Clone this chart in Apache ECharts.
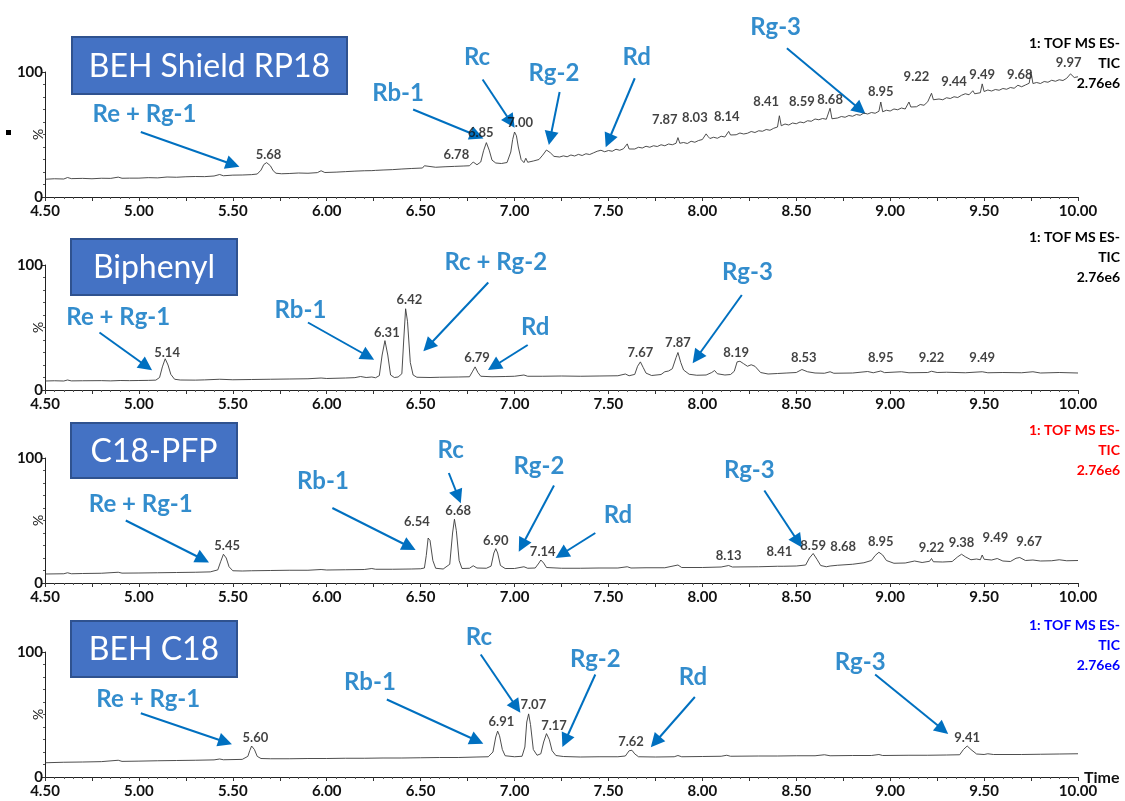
<!DOCTYPE html>
<html>
<head>
<meta charset="utf-8">
<script src="https://cdn.jsdelivr.net/npm/echarts@6/dist/echarts.min.js"></script>
<style>
html, body { margin: 0; padding: 0; background: #fff; }
#chart { width: 1125px; height: 801px; }
</style>
</head>
<body>
<div id="chart"></div>
<script>
// column names, one chromatogram per column
const columnNames = ['BEH Shield RP18', 'Biphenyl', 'C18-PFP', 'BEH C18']
const detectorText = '1: TOF MS ES-\nTIC\n2.76e6'

// axis tick labels
const timeLabels = [4.5, 5, 5.5, 6, 6.5, 7, 7.5, 8, 8.5, 9, 9.5, 10]
const percentLabels = [0, 100]

// TIC traces, [time (min), relative intensity (%)]
const shieldTrace = [
  [4.50, 14.2], [4.55, 14.6], [4.60, 14.4], [4.62, 15.6], [4.64, 14.7], [4.70, 14.9], [4.75, 14.6], [4.80, 15.0],
  [4.85, 14.9], [4.89, 15.9], [4.91, 15.0], [4.95, 15.1], [5.00, 15.1], [5.05, 15.5], [5.10, 15.3], [5.15, 16.0],
  [5.20, 15.8], [5.25, 16.2], [5.30, 16.4], [5.35, 16.3], [5.40, 16.8], [5.43, 18.0], [5.45, 17.0], [5.50, 17.5],
  [5.55, 17.6], [5.60, 17.9], [5.63, 18.4], [5.65, 21.5], [5.665, 26.0], [5.68, 27.5], [5.69, 26.8], [5.70, 25.0],
  [5.715, 21.0], [5.73, 19.0], [5.76, 18.6], [5.80, 18.8], [5.85, 19.2], [5.90, 19.0], [5.95, 19.5], [5.97, 21.0],
  [5.99, 19.6], [6.05, 19.9], [6.10, 20.3], [6.15, 20.7], [6.20, 21.0], [6.24, 21.1], [6.25, 22.6], [6.26, 21.3],
  [6.30, 21.6], [6.35, 21.9], [6.40, 22.4], [6.45, 22.8], [6.51, 23.2], [6.52, 25.0], [6.53, 23.4], [6.58, 23.8],
  [6.63, 24.2], [6.68, 24.5], [6.73, 24.8], [6.76, 25.0], [6.78, 28.0], [6.80, 25.8], [6.82, 28.0], [6.835, 37.0],
  [6.85, 43.5], [6.865, 37.5], [6.88, 29.5], [6.90, 27.2], [6.93, 26.8], [6.96, 27.6], [6.98, 36.0], [6.99, 46.0],
  [7.00, 52.0], [7.01, 49.0], [7.02, 40.0], [7.035, 30.0], [7.05, 27.5], [7.06, 31.0], [7.07, 27.8], [7.10, 28.8],
  [7.13, 30.0], [7.15, 33.5], [7.17, 37.6], [7.19, 35.5], [7.21, 32.5],
  [7.24, 32.0], [7.26, 32.9], [7.28, 32.2], [7.30, 33.6], [7.32, 32.8], [7.34, 34.1], [7.36, 33.2], [7.38, 34.6],
  [7.40, 34.0], [7.42, 35.3], [7.44, 36.6], [7.46, 37.4], [7.48, 36.2], [7.50, 37.2], [7.52, 36.6], [7.54, 38.2],
  [7.56, 37.4], [7.58, 38.6], [7.60, 42.5], [7.61, 38.4], [7.62, 39.0], [7.64, 38.4], [7.66, 39.8], [7.68, 39.2],
  [7.70, 40.6], [7.72, 39.8], [7.74, 41.0], [7.76, 40.4], [7.78, 41.8], [7.80, 41.0], [7.82, 42.4], [7.84, 41.8],
  [7.86, 43.0], [7.87, 47.5], [7.88, 43.0], [7.90, 43.6], [7.92, 42.8], [7.94, 44.6], [7.96, 43.8], [7.98, 45.2],
  [8.00, 46.0], [8.02, 50.5], [8.03, 48.5], [8.04, 46.8], [8.06, 47.8], [8.08, 47.0], [8.10, 48.6], [8.12, 48.0],
  [8.14, 52.5], [8.15, 49.6], [8.16, 50.6], [8.18, 49.8], [8.20, 51.2], [8.22, 50.4], [8.24, 51.0], [8.26, 52.4],
  [8.28, 51.6], [8.30, 53.0], [8.32, 52.6], [8.34, 54.0], [8.36, 53.4], [8.38, 55.0], [8.40, 56.0], [8.41, 65.0],
  [8.42, 57.0], [8.44, 58.4], [8.46, 57.6], [8.48, 59.2], [8.50, 58.6], [8.52, 60.0], [8.54, 59.4], [8.56, 61.0],
  [8.58, 60.6], [8.60, 62.4], [8.62, 61.8], [8.64, 62.8], [8.66, 62.2], [8.68, 71.0], [8.69, 62.6], [8.70, 63.8],
  [8.72, 63.2], [8.74, 64.4], [8.76, 63.8], [8.78, 65.2], [8.80, 64.6], [8.82, 66.0], [8.84, 65.4], [8.86, 67.2],
  [8.88, 66.4], [8.90, 67.6], [8.92, 67.0], [8.94, 68.6], [8.95, 76.0], [8.96, 68.2], [8.98, 69.4], [9.00, 68.8],
  [9.02, 70.4], [9.04, 69.8], [9.06, 71.2], [9.08, 70.4], [9.10, 76.0], [9.11, 72.0], [9.12, 72.8], [9.14, 72.2],
  [9.16, 74.0], [9.18, 73.4], [9.20, 76.2], [9.22, 83.0], [9.23, 77.8], [9.24, 77.0], [9.26, 78.4], [9.28, 77.8],
  [9.30, 79.4], [9.32, 78.8], [9.34, 80.2], [9.36, 79.6], [9.38, 81.4], [9.40, 82.6], [9.42, 81.8], [9.44, 85.0],
  [9.45, 82.6], [9.46, 84.2], [9.48, 83.4], [9.49, 90.5], [9.50, 84.4], [9.52, 85.6], [9.54, 84.8], [9.56, 86.0],
  [9.58, 85.4], [9.60, 86.8], [9.62, 86.2], [9.64, 87.6], [9.66, 87.0], [9.68, 89.4], [9.70, 88.2], [9.72, 89.6],
  [9.74, 91.0], [9.75, 100.0], [9.76, 90.8], [9.78, 91.6], [9.80, 90.8], [9.82, 92.4], [9.84, 91.8], [9.86, 93.4],
  [9.88, 92.6], [9.90, 93.8], [9.92, 93.2], [9.94, 95.0], [9.96, 98.5], [9.97, 97.4], [9.98, 95.6], [10.00, 96.2]
]

const biphenylTrace = [
  [4.50, 7.2], [4.55, 7.4], [4.60, 7.2], [4.62, 8.0], [4.64, 7.3], [4.70, 7.4], [4.80, 7.5], [4.85, 7.3],
  [4.90, 7.6], [4.95, 7.5], [5.00, 7.6], [5.05, 7.7], [5.09, 7.9], [5.11, 10.0], [5.125, 18.5], [5.14, 25.0],
  [5.155, 20.0], [5.17, 12.5], [5.19, 8.6], [5.22, 8.0], [5.30, 7.9], [5.35, 8.1], [5.43, 8.6], [5.44, 8.0],
  [5.50, 8.2], [5.60, 8.4], [5.70, 8.6], [5.705, 9.8], [5.71, 8.6], [5.80, 8.8], [5.90, 9.0], [5.97, 9.6],
  [6.00, 9.2], [6.10, 9.6], [6.15, 9.9], [6.18, 10.8], [6.21, 10.0], [6.24, 10.4], [6.26, 9.8], [6.28, 11.5],
  [6.295, 28.0], [6.31, 39.5], [6.325, 28.0], [6.34, 12.0], [6.36, 10.0], [6.38, 10.4], [6.40, 13.0], [6.41, 40.0],
  [6.42, 65.0], [6.43, 55.0], [6.445, 22.0], [6.46, 12.0], [6.48, 10.2], [6.55, 10.0], [6.60, 10.2], [6.70, 10.4],
  [6.76, 10.6], [6.775, 14.5], [6.79, 18.5], [6.805, 14.0], [6.82, 11.0], [6.88, 10.6], [6.95, 10.8], [7.00, 11.0],
  [7.05, 12.0], [7.07, 11.0], [7.15, 11.0], [7.25, 11.2], [7.35, 11.0], [7.45, 11.2], [7.55, 11.4], [7.59, 12.8],
  [7.61, 11.4], [7.64, 12.5], [7.655, 19.0], [7.67, 22.5], [7.685, 18.0], [7.70, 13.5], [7.73, 11.6], [7.78, 12.4],
  [7.80, 14.6], [7.82, 15.2], [7.84, 17.0], [7.86, 26.0], [7.87, 30.0], [7.885, 22.0], [7.90, 16.0], [7.93, 12.6],
  [7.97, 11.8], [8.02, 12.0], [8.05, 14.0], [8.065, 15.6], [8.08, 13.0], [8.12, 12.0], [8.15, 12.4], [8.17, 15.0],
  [8.185, 22.5], [8.20, 23.0], [8.22, 21.0], [8.24, 19.0], [8.26, 20.2], [8.28, 19.0], [8.31, 14.0], [8.35, 12.8],
  [8.40, 13.2], [8.45, 13.6], [8.50, 14.0], [8.53, 16.4], [8.56, 14.6], [8.60, 13.6], [8.65, 13.4], [8.68, 14.6],
  [8.70, 13.4], [8.80, 13.6], [8.88, 14.8], [8.91, 13.8], [8.95, 15.2], [8.97, 13.9], [9.06, 14.6], [9.10, 13.8],
  [9.20, 14.0], [9.22, 15.0], [9.25, 14.0], [9.30, 14.2], [9.40, 13.8], [9.49, 14.6], [9.52, 13.8], [9.60, 14.0],
  [9.70, 13.8], [9.76, 14.6], [9.80, 13.6], [9.90, 14.0], [10.00, 13.6]
]

const pfpTrace = [
  [4.50, 7.2], [4.60, 7.4], [4.62, 8.2], [4.64, 7.4], [4.70, 7.6], [4.80, 7.8], [4.89, 8.6], [4.91, 7.9],
  [5.00, 8.0], [5.10, 8.2], [5.20, 8.4], [5.30, 8.6], [5.38, 8.9], [5.42, 10.5], [5.435, 17.0], [5.45, 23.0],
  [5.465, 20.0], [5.48, 13.0], [5.50, 9.8], [5.55, 9.6], [5.60, 9.8], [5.70, 10.0], [5.705, 11.4], [5.71, 10.0],
  [5.80, 10.2], [5.90, 10.2], [5.97, 10.8], [6.00, 10.4], [6.10, 10.6], [6.20, 10.8], [6.24, 11.6], [6.26, 11.0],
  [6.35, 11.0], [6.45, 11.2], [6.50, 11.4], [6.51, 13.0], [6.52, 12.0], [6.53, 22.0], [6.54, 36.0], [6.55, 34.0],
  [6.565, 18.0], [6.58, 11.8], [6.62, 11.2], [6.655, 15.0], [6.67, 40.0], [6.68, 51.0], [6.69, 42.0], [6.705, 18.0],
  [6.72, 11.6], [6.76, 11.8], [6.78, 13.8], [6.80, 12.0], [6.85, 11.8], [6.875, 13.5], [6.89, 24.0], [6.90, 27.5],
  [6.91, 24.0], [6.925, 14.0], [6.95, 11.6], [7.00, 11.6], [7.05, 13.0], [7.07, 11.8], [7.11, 12.0], [7.13, 16.0],
  [7.14, 18.4], [7.155, 16.0], [7.17, 12.4], [7.25, 11.8], [7.35, 11.8], [7.45, 12.0], [7.55, 12.0], [7.60, 13.0],
  [7.62, 12.0], [7.70, 12.2], [7.80, 12.2], [7.87, 14.4], [7.89, 12.4], [8.00, 12.4], [8.10, 12.8], [8.14, 14.0],
  [8.16, 12.8], [8.30, 13.0], [8.40, 13.4], [8.41, 14.8], [8.43, 13.4], [8.50, 13.6], [8.55, 14.4], [8.57, 20.0],
  [8.59, 23.6], [8.61, 19.0], [8.63, 14.0], [8.66, 13.0], [8.68, 13.6], [8.72, 14.2], [8.80, 15.0], [8.86, 16.2],
  [8.90, 18.0], [8.92, 22.0], [8.94, 24.6], [8.96, 22.4], [8.98, 18.0], [9.02, 15.8], [9.08, 16.0], [9.13, 17.6],
  [9.17, 16.4], [9.21, 17.4], [9.22, 19.6], [9.23, 17.0], [9.28, 16.8], [9.33, 17.2], [9.36, 21.0], [9.38, 23.0],
  [9.40, 21.0], [9.43, 18.6], [9.46, 19.2], [9.48, 18.6], [9.49, 22.4], [9.50, 19.0], [9.54, 18.4], [9.57, 19.6],
  [9.60, 17.6], [9.64, 17.2], [9.67, 19.8], [9.69, 20.4], [9.72, 18.0], [9.76, 18.4], [9.80, 17.6], [9.86, 17.8],
  [9.90, 18.6], [9.94, 17.8], [10.00, 18.0]
]

const c18Trace = [
  [4.50, 11.4], [4.60, 11.8], [4.70, 12.0], [4.80, 12.3], [4.89, 13.4], [4.91, 12.5], [5.00, 12.7], [5.10, 13.0],
  [5.20, 13.2], [5.30, 13.4], [5.40, 13.7], [5.43, 14.4], [5.45, 13.8], [5.55, 14.1], [5.58, 16.5], [5.59, 21.0],
  [5.60, 24.8], [5.615, 22.0], [5.63, 16.5], [5.65, 14.8], [5.70, 14.6], [5.705, 15.8], [5.71, 14.6], [5.80, 14.6],
  [5.90, 14.8], [6.00, 14.8], [6.10, 15.0], [6.20, 15.0], [6.30, 15.2], [6.40, 15.2], [6.50, 15.4], [6.60, 15.6],
  [6.70, 15.6], [6.80, 16.0], [6.86, 16.2], [6.885, 20.0], [6.90, 32.0], [6.91, 36.7], [6.92, 33.0], [6.935, 22.0],
  [6.95, 17.0], [7.00, 16.2], [7.04, 16.6], [7.055, 24.0], [7.065, 44.0], [7.075, 50.5], [7.085, 42.0], [7.10, 22.0],
  [7.12, 17.4], [7.14, 18.6], [7.155, 28.0], [7.17, 34.7], [7.185, 30.0], [7.20, 21.0], [7.22, 17.2], [7.26, 16.4],
  [7.35, 16.0], [7.45, 16.2], [7.55, 16.2], [7.59, 16.8], [7.61, 21.0], [7.625, 21.4], [7.64, 18.5], [7.66, 16.2],
  [7.75, 16.0], [7.85, 16.2], [7.87, 17.2], [7.89, 16.2], [8.00, 16.4], [8.10, 16.6], [8.13, 17.4], [8.15, 16.6],
  [8.30, 16.8], [8.40, 16.8], [8.50, 17.0], [8.60, 17.0], [8.65, 17.8], [8.68, 17.0], [8.80, 17.2], [8.90, 17.2],
  [8.94, 18.0], [8.96, 17.2], [9.10, 17.4], [9.20, 17.4], [9.30, 17.6], [9.37, 17.8], [9.39, 22.0], [9.41, 24.8],
  [9.43, 22.0], [9.46, 18.4], [9.50, 18.0], [9.52, 18.6], [9.55, 18.0], [9.70, 18.0], [9.80, 18.2], [9.90, 18.4],
  [10.00, 18.6]
]

// peak retention-time tags: [rt, tag time, tag height %]
const shieldTags = [
  [5.68, 5.69, 34], [6.78, 6.69, 34], [6.85, 6.82, 51], [7.00, 7.03, 59], [7.87, 7.80, 62], [8.03, 7.96, 63],
  [8.14, 8.13, 64], [8.41, 8.34, 76], [8.59, 8.53, 76], [8.68, 8.68, 78], [8.95, 8.95, 84], [9.22, 9.14, 96],
  [9.44, 9.34, 92], [9.49, 9.49, 98], [9.68, 9.69, 98], [9.97, 9.95, 107]
]
const biphenylTags = [
  [5.14, 5.15, 30], [6.31, 6.32, 46], [6.42, 6.44, 72], [6.79, 6.80, 26], [7.67, 7.67, 30], [7.87, 7.87, 38],
  [8.19, 8.18, 30], [8.53, 8.54, 26], [8.95, 8.95, 26], [9.22, 9.22, 26], [9.49, 9.49, 26]
]
const pfpTags = [
  [5.45, 5.47, 30], [6.54, 6.48, 49], [6.68, 6.70, 58], [6.90, 6.90, 34], [7.14, 7.15, 25], [8.13, 8.14, 22],
  [8.41, 8.41, 25], [8.59, 8.59, 30], [8.68, 8.75, 29], [8.95, 8.95, 33], [9.22, 9.22, 28], [9.38, 9.38, 32],
  [9.49, 9.56, 36], [9.67, 9.74, 33]
]
const c18Tags = [
  [5.60, 5.62, 31], [6.91, 6.93, 44], [7.07, 7.10, 58], [7.17, 7.21, 41], [7.62, 7.62, 28], [9.41, 9.41, 31]
]

// compound callouts: [name, text time, text %, arrow start time, start %, arrow tip time, tip %]
const shieldNotes = [
  ['Re + Rg-1', 5.03, 66, 5.01, 52, 5.50, 26],
  ['Rb-1', 6.38, 83, 6.46, 70, 6.80, 49],
  ['Rc', 6.80, 112, 6.83, 94, 6.98, 60],
  ['Rg-2', 7.21, 99, 7.24, 84, 7.19, 47],
  ['Rd', 7.65, 112, 7.64, 95, 7.50, 45],
  ['Rg-3', 8.39, 136, 8.45, 119, 8.84, 70]
]
const biphenylNotes = [
  ['Re + Rg-1', 4.89, 58, 4.79, 46, 5.04, 19],
  ['Rb-1', 5.86, 64, 5.90, 54, 6.22, 27],
  ['Rc + Rg-2', 6.90, 102, 6.86, 86, 6.54, 35],
  ['Rd', 7.11, 50, 7.07, 36, 6.89, 19],
  ['Rg-3', 8.24, 94, 8.21, 76, 7.97, 26]
]
const pfpNotes = [
  ['Re + Rg-1', 5.01, 63, 4.93, 50, 5.34, 19],
  ['Rb-1', 5.98, 81, 6.03, 60, 6.44, 29],
  ['Rc', 6.66, 106, 6.65, 88, 6.70, 69],
  ['Rg-2', 7.13, 93, 7.21, 78, 7.04, 30],
  ['Rd', 7.55, 54, 7.43, 40, 7.25, 23],
  ['Rg-3', 8.25, 90, 8.33, 74, 8.51, 33]
]
const c18Notes = [
  ['Re + Rg-1', 5.05, 62, 5.01, 51, 5.46, 28],
  ['Rb-1', 6.23, 76, 6.32, 62, 6.80, 29],
  ['Rc', 6.81, 112, 6.82, 98, 7.01, 56],
  ['Rg-2', 7.43, 94, 7.43, 82, 7.27, 29],
  ['Rd', 7.95, 80, 7.96, 64, 7.75, 28],
  ['Rg-3', 8.84, 92, 8.92, 82, 9.28, 38]
]

const traces = [shieldTrace, biphenylTrace, pfpTrace, c18Trace]
const tags = [shieldTags, biphenylTags, pfpTags, c18Tags]
const notes = [shieldNotes, biphenylNotes, pfpNotes, c18Notes]

// layout
const FONT = 'Lato'
const BLUE = '#0070C0'
const gridTops = [72, 265, 458, 652]
const gridH = 125
const titleBoxes = [[72, 37, 275, 57], [71, 239, 166, 56], [71, 423, 166, 55], [71, 621, 166, 56]]
const headerTops = [33, 227, 420, 615]
const headerColors = ['#000000', '#000000', '#ff0000', '#0000ff']

const chart = echarts.init(document.getElementById('chart'))

const grid = []
const xAxis = []
const yAxis = []
const series = []
const graphic = []

for (let i = 0; i < 4; i++) {
  grid.push({ left: 45, right: 47, top: gridTops[i], height: gridH, outerBoundsMode: 'none' })
  xAxis.push({
    type: 'value',
    gridIndex: i,
    min: 4.5,
    max: 10,
    interval: 0.25,
    axisLine: { lineStyle: { color: '#222', width: 1 } },
    axisTick: { length: 4, lineStyle: { color: '#333' } },
    minorTick: { show: true, splitNumber: 5, length: 2, lineStyle: { color: '#555' } },
    splitLine: { show: false },
    axisLabel: {
      fontFamily: FONT,
      fontWeight: 'bold',
      fontSize: 15,
      color: '#111',
      margin: 7,
      formatter: (v) => timeLabels.some(t => Math.abs(t - v) < 1e-6) ? v.toFixed(2) : ''
    }
  })
  yAxis.push({
    type: 'value',
    gridIndex: i,
    min: 0,
    max: 100,
    interval: 100,
    name: '%',
    nameLocation: 'middle',
    nameRotate: 90,
    nameGap: 0,
    nameMoveOverlap: false,
    nameTextStyle: { fontFamily: FONT, fontSize: 14, color: '#222' },
    axisLine: { show: true, lineStyle: { color: '#222', width: 1 } },
    axisTick: { show: true, length: 4, lineStyle: { color: '#333' } },
    minorTick: { show: true, splitNumber: 10, length: 2, lineStyle: { color: '#555' } },
    splitLine: { show: false },
    axisLabel: {
      fontFamily: FONT,
      fontWeight: 'bold',
      fontSize: 15,
      color: '#111',
      margin: 2,
      formatter: (v) => percentLabels.indexOf(v) >= 0 ? String(v) : ''
    }
  })

  series.push({
    type: 'line',
    xAxisIndex: i,
    yAxisIndex: i,
    data: traces[i],
    symbol: 'none',
    silent: true,
    lineStyle: { color: '#3a3a3a', width: 0.9 }
  })
  series.push({
    type: 'scatter',
    xAxisIndex: i,
    yAxisIndex: i,
    clip: false,
    symbolSize: 1,
    silent: true,
    itemStyle: { color: 'rgba(0,0,0,0)' },
    data: tags[i].map(d => [d[1], d[2], d[0]]),
    label: {
      show: true,
      position: 'inside',
      formatter: (p) => p.value[2].toFixed(2),
      fontFamily: FONT,
      fontWeight: 'bold',
      fontSize: 13,
      color: '#111'
    }
  })
  series.push({
    type: 'lines',
    coordinateSystem: 'cartesian2d',
    xAxisIndex: i,
    yAxisIndex: i,
    clip: false,
    silent: true,
    symbol: ['none', 'triangle'],
    symbolSize: 14,
    lineStyle: { color: BLUE, width: 2, opacity: 1, curveness: 0 },
    data: notes[i].map(n => ({ coords: [[n[3], n[4]], [n[5], n[6]]] }))
  })
  series.push({
    type: 'scatter',
    xAxisIndex: i,
    yAxisIndex: i,
    clip: false,
    symbolSize: 1,
    silent: true,
    itemStyle: { color: 'rgba(0,0,0,0)' },
    data: notes[i].map(n => [n[1], n[2], n[0]]),
    label: {
      show: true,
      position: 'inside',
      formatter: (p) => p.value[2],
      fontFamily: FONT,
      fontWeight: 'bold',
      fontSize: 24,
      color: BLUE
    }
  })

  const b = titleBoxes[i]
  graphic.push({
    type: 'rect',
    shape: { x: b[0], y: b[1], width: b[2], height: b[3] },
    style: { fill: '#4472C4', stroke: '#2F528F', lineWidth: 2 },
    z: 10
  })
  graphic.push({
    type: 'text',
    x: b[0] + b[2] / 2,
    y: b[1] + b[3] / 2 + 1,
    style: { text: columnNames[i], fill: '#fff', font: '32px ' + FONT, textAlign: 'center', textVerticalAlign: 'middle' },
    z: 11
  })
  graphic.push({
    type: 'text',
    x: 1120,
    y: headerTops[i],
    style: {
      text: detectorText,
      fill: headerColors[i],
      font: 'bold 14px ' + FONT,
      lineHeight: 20,
      textAlign: 'right',
      textVerticalAlign: 'top'
    },
    z: 10
  })
}

// small marker left of the first panel, and the time axis title
graphic.push({ type: 'rect', shape: { x: 6, y: 130, width: 5, height: 5 }, style: { fill: '#000' } })
graphic.push({
  type: 'text',
  x: 1084,
  y: gridTops[3] + gridH + 1,
  style: { text: 'Time', fill: '#111', font: 'bold 16px ' + FONT, textAlign: 'left', textVerticalAlign: 'middle' }
})

chart.setOption({
  animation: false,
  backgroundColor: '#fff',
  textStyle: { fontFamily: FONT },
  grid,
  xAxis,
  yAxis,
  series,
  graphic
})
</script>
</body>
</html>
